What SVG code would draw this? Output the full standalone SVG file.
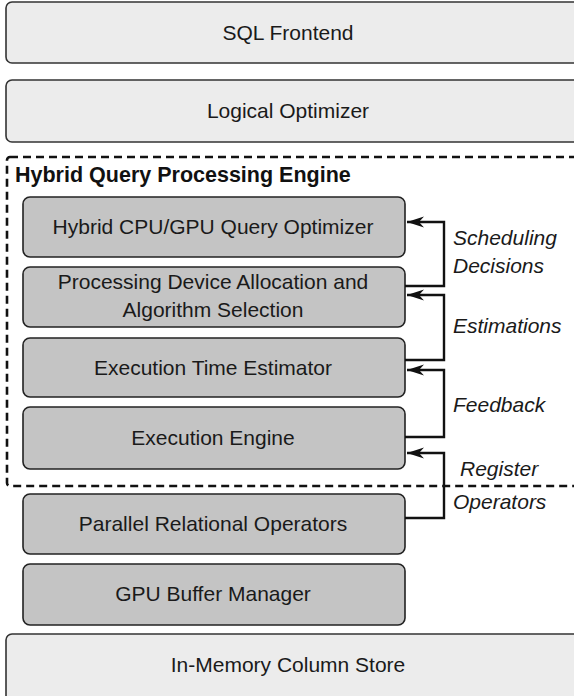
<svg xmlns="http://www.w3.org/2000/svg" width="574" height="696" viewBox="0 0 574 696">
  <style>
    .outer { fill: #ececec; stroke: #333333; stroke-width: 1.6; }
    .inner { fill: #c4c4c4; stroke: #222222; stroke-width: 1.6; }
    .label { font-family: "Liberation Sans", Arial, sans-serif; font-size: 21px; fill: #1a1a1a; text-anchor: middle; }
    .note { font-family: "Liberation Sans", Arial, sans-serif; font-size: 21px; font-style: italic; fill: #1a1a1a; }
    .title { font-family: "Liberation Sans", Arial, sans-serif; font-size: 21.5px; font-weight: bold; fill: #111111; }
    .engine { fill: none; stroke: #111111; stroke-width: 2.6; stroke-dasharray: 8 5; }
    .link { fill: none; stroke: #111111; stroke-width: 2.4; }
  </style>
  <defs>
    <!-- barbed arrowhead, tip at the path end -->
    <marker id="head" markerUnits="userSpaceOnUse" markerWidth="20" markerHeight="14" refX="19" refY="7" orient="auto" viewBox="0 0 20 14">
      <path d="M19,7 L2,1.5 L7,7 L2,12.5 Z" fill="#111111"/>
    </marker>
  </defs>

  <rect width="574" height="696" fill="#ffffff"/>

  <g id="sql-frontend">
    <rect class="outer" x="6" y="2" width="580" height="61" rx="6"/>
    <text class="label" x="288" y="40">SQL Frontend</text>
  </g>
  <g id="logical-optimizer">
    <rect class="outer" x="6" y="80" width="580" height="62" rx="6"/>
    <text class="label" x="288" y="118">Logical Optimizer</text>
  </g>

  <g id="hybrid-engine">
    <rect class="engine" x="7" y="157" width="580" height="329" rx="3"/>
    <text class="title" x="15" y="182">Hybrid Query Processing Engine</text>
  </g>

  <g id="query-optimizer">
    <rect class="inner" x="23" y="197" width="382" height="60" rx="7"/>
    <text class="label" x="213" y="234">Hybrid CPU/GPU Query Optimizer</text>
  </g>
  <g id="device-allocation">
    <rect class="inner" x="23" y="267" width="382" height="60" rx="7"/>
    <text class="label" x="213" y="289">Processing Device Allocation and</text>
    <text class="label" x="213" y="317">Algorithm Selection</text>
  </g>
  <g id="time-estimator">
    <rect class="inner" x="23" y="338" width="382" height="59" rx="7"/>
    <text class="label" x="213" y="375">Execution Time Estimator</text>
  </g>
  <g id="execution-engine">
    <rect class="inner" x="23" y="407" width="382" height="62" rx="7"/>
    <text class="label" x="213" y="445">Execution Engine</text>
  </g>
  <g id="relational-operators">
    <rect class="inner" x="23" y="494" width="382" height="60" rx="7"/>
    <text class="label" x="213" y="531">Parallel Relational Operators</text>
  </g>
  <g id="buffer-manager">
    <rect class="inner" x="23" y="564" width="382" height="61" rx="7"/>
    <text class="label" x="213" y="601">GPU Buffer Manager</text>
  </g>
  <g id="column-store">
    <rect class="outer" x="6" y="634" width="580" height="70" rx="6"/>
    <text class="label" x="288" y="672">In-Memory Column Store</text>
  </g>

  <g id="connectors">
    <path class="link" d="M405,286 H444 V222 H407" marker-end="url(#head)"/>
    <path class="link" d="M405,360 H444 V295 H407" marker-end="url(#head)"/>
    <path class="link" d="M405,437 H444 V370 H407" marker-end="url(#head)"/>
    <path class="link" d="M405,518 H444 V453 H407" marker-end="url(#head)"/>
    <text class="note" x="453" y="245">Scheduling</text>
    <text class="note" x="453" y="273">Decisions</text>
    <text class="note" x="453" y="333">Estimations</text>
    <text class="note" x="453" y="412">Feedback</text>
    <text class="note" x="460" y="476">Register</text>
    <text class="note" x="453" y="509">Operators</text>
  </g>
</svg>
